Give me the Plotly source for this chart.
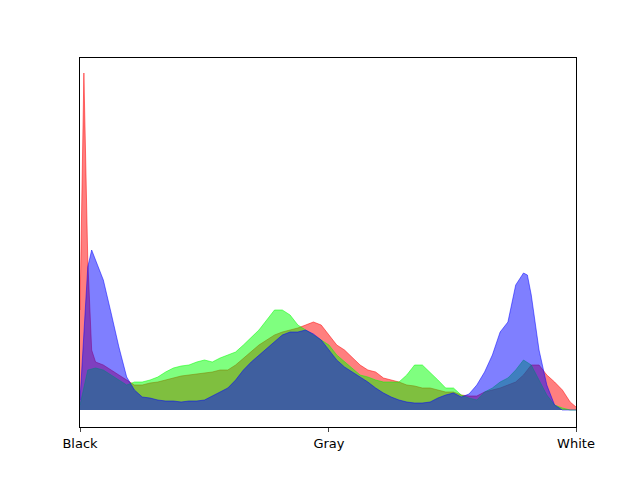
import plotly.graph_objects as go

# pixel-count histograms (arbitrary units)
red_bins = [0, 2, 4, 6, 8, 12, 16, 20, 24, 28, 32, 36, 40, 44, 48, 52, 56, 60, 64, 68, 72, 76, 80,
            84, 88, 92, 96, 100, 104, 108, 112, 116, 120, 124, 128, 132, 136, 140, 144, 148, 152,
            156, 160, 164, 168, 172, 176, 180, 184, 188, 192, 196, 200, 204, 208, 212, 216, 220,
            224, 228, 232, 236, 240, 244, 248, 252, 255]
red = [100, 337, 150, 60, 48, 45, 40, 35, 30, 25, 25, 27, 28, 30, 32, 34, 35, 36, 37, 38, 40, 40, 45,
       52, 58, 65, 70, 75, 78, 80, 82, 85, 88, 85, 75, 65, 60, 52, 45, 40, 38,
       32, 30, 28, 25, 24, 22, 22, 20, 18, 18, 15, 14, 14, 18, 20, 22, 25,
       28, 35, 45, 45, 35, 28, 20, 8, 3]

green_bins = list(range(0, 256, 4)) + [255]
green = [5, 40, 42, 40, 35, 30, 25, 28, 28, 30, 33, 38, 42, 44, 45, 48, 50, 48, 52, 55, 58, 65,
         72, 80, 90, 100, 100, 95, 85, 80, 75, 70, 65, 55, 48, 42, 35, 33, 30, 28, 28, 28,
         35, 45, 45, 38, 30, 22, 22, 15, 12, 10, 18, 22, 28, 32, 40, 50, 45, 30, 15, 5, 2, 0, 0]

blue_bins = [0, 4, 6, 8, 12, 16, 20, 24, 28, 32, 36, 40, 44, 48, 52, 56, 60, 64, 68, 72, 76, 80,
             84, 88, 92, 96, 100, 104, 108, 112, 116, 120, 124, 128, 132, 136, 140, 144, 148,
             152, 156, 160, 164, 168, 172, 176, 180, 184, 188, 192, 196, 200, 204, 208, 212,
             216, 220, 224, 228, 230, 232, 236, 240, 244, 248, 252, 255]
blue = [10, 143, 160, 150, 130, 97, 63, 33, 20, 13, 12, 10, 9, 9, 8, 9, 9, 10, 14, 18, 22, 30,
        40, 48, 55, 62, 68, 75, 78, 78, 80, 76, 70, 60, 50, 43, 38, 33, 28,
        22, 17, 13, 10, 8, 7, 7, 8, 12, 15, 17, 13, 16, 25, 38, 55,
        78, 88, 125, 137, 135, 115, 60, 25, 5, 0, 0, 0]

tick_vals = [0, 128, 255]
tick_text = ["Black", "Gray", "White"]

fig = go.Figure()
for x, y, rgb in [(red_bins, red, "255,0,0"), (green_bins, green, "0,255,0"), (blue_bins, blue, "0,0,255")]:
    fig.add_trace(go.Scatter(x=x, y=y, fill="tozeroy", mode="lines",
                             line=dict(color=f"rgba({rgb},0.5)", width=1),
                             fillcolor=f"rgba({rgb},0.5)"))

fig.update_layout(width=640, height=480, showlegend=False,
                  margin=dict(l=72, r=72, t=50, b=61),
                  plot_bgcolor="white", paper_bgcolor="white",
                  font=dict(family="DejaVu Sans", size=13, color="black"))
fig.update_xaxes(range=[0, 255], tickvals=tick_vals, ticktext=tick_text, ticks="outside",
                 ticklen=4, showgrid=False, zeroline=False, showline=True, linecolor="black",
                 mirror=True)
fig.update_yaxes(range=[-17, 352], showticklabels=False, showgrid=False, zeroline=False,
                 showline=True, linecolor="black", mirror=True)
fig.write_html("out.html")
